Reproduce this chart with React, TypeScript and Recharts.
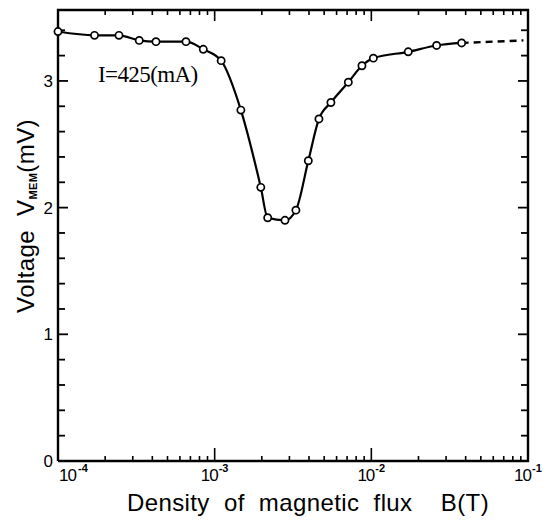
import React from "react";
import { LineChart, Line, XAxis, YAxis, Label } from "recharts";

document.body.style.margin = "0";

const fluxB = [
  1.0e-4, 1.71e-4, 2.45e-4, 3.3e-4, 4.22e-4, 6.56e-4, 8.46e-4, 1.1e-3, 1.47e-3,
  1.97e-3, 2.18e-3, 2.81e-3, 3.3e-3, 3.96e-3, 4.63e-3, 5.52e-3, 7.13e-3,
  8.71e-3, 1.03e-2, 1.72e-2, 2.61e-2, 3.77e-2,
];
const voltage = [
  3.39, 3.36, 3.36, 3.32, 3.31, 3.31, 3.25, 3.16, 2.77, 2.16, 1.92, 1.9, 1.98,
  2.37, 2.7, 2.83, 2.99, 3.12, 3.18, 3.23, 3.28, 3.3,
];
// dashed extrapolation beyond the last measured point
const extrapB = [3.77e-2, 9.35e-2];
const extrapV = [3.3, 3.32];

const decades = [1e-4, 1e-3, 1e-2, 1e-1];
const minorSteps = [2, 3, 4, 5, 6, 7, 8, 9];
const xTicks = decades.flatMap((d) =>
  d === 1e-1 ? [d] : [d, ...minorSteps.map((m) => m * d)]
);
const yTicks = [0, 0.2, 0.4, 0.6, 0.8, 1, 1.2, 1.4, 1.6, 1.8, 2, 2.2, 2.4, 2.6, 2.8, 3, 3.2, 3.4];
const yLabels = [0, 1, 2, 3];
const X_DOMAIN = [1e-4, 1e-1];
const Y_DOMAIN = [0, 3.56];

const measured = fluxB.map((b, i) => ({ b, v: voltage[i] }));
const extrap = extrapB.map((b, i) => ({ b, v: extrapV[i] }));
// box around the plot, on the domain corners
const frame = [
  { b: X_DOMAIN[0], v: Y_DOMAIN[0] },
  { b: X_DOMAIN[1], v: Y_DOMAIN[0] },
  { b: X_DOMAIN[1], v: Y_DOMAIN[1] },
  { b: X_DOMAIN[0], v: Y_DOMAIN[1] },
  { b: X_DOMAIN[0], v: Y_DOMAIN[0] },
];
// anchor rows for the inward tick marks on each edge
const bottomMarks = xTicks.map((b) => ({ b, v: Y_DOMAIN[0] }));
const topMarks = xTicks.map((b) => ({ b, v: Y_DOMAIN[1] }));
const leftMarks = yTicks.map((v) => ({ b: X_DOMAIN[0], v }));
const rightMarks = yTicks.map((v) => ({ b: X_DOMAIN[1], v }));

const W = 554;
const H = 524;
const FONT = "'Liberation Sans', Arial, Helvetica, sans-serif";
const TM = 2; // recharts default tickMargin

const isDecade = (v: number) => decades.some((d) => Math.abs(v - d) / d < 1e-6);

const bottomDot = (p: any) => {
  const len = isDecade(p.payload.b) ? 13 : 5;
  return <line key={`bd${p.index}`} x1={p.cx} x2={p.cx} y1={p.cy} y2={p.cy - len} stroke="#000" strokeWidth={1.6} />;
};
const topDot = (p: any) => {
  const len = isDecade(p.payload.b) ? 11 : 5;
  return <line key={`td${p.index}`} x1={p.cx} x2={p.cx} y1={p.cy} y2={p.cy + len} stroke="#000" strokeWidth={1.6} />;
};
const leftDot = (p: any) => {
  const len = yLabels.includes(p.payload.v) ? 10 : 7;
  return <line key={`ld${p.index}`} x1={p.cx} x2={p.cx + len} y1={p.cy} y2={p.cy} stroke="#000" strokeWidth={1.8} />;
};
const rightDot = (p: any) => {
  const len = yLabels.includes(p.payload.v) ? 10 : 7;
  return <line key={`rd${p.index}`} x1={p.cx} x2={p.cx - len} y1={p.cy} y2={p.cy} stroke="#000" strokeWidth={1.8} />;
};

function bottomTick(props: any) {
  const { x, payload, index } = props;
  const y = props.y - TM;
  const exp = Math.round(Math.log10(payload.value));
  const first = index === 0;
  return (
    <g key={`b${index}`}>
      <text fontFamily={FONT} fill="#000">
        <tspan
          x={first ? x + 1 : x + 3}
          y={y + 20}
          fontSize={17}
          letterSpacing={-1}
          textAnchor={first ? "start" : "end"}
        >
          10
        </tspan>
        <tspan x={first ? x + 20 : x + 4} y={y + 11} fontSize={11} fontWeight="bold">
          {exp}
        </tspan>
      </text>
    </g>
  );
}

function leftTick(props: any) {
  const { y, payload, index } = props;
  const x = props.x + TM;
  return (
    <g key={`l${index}`}>
      <text x={x - 5} y={y + 6} textAnchor="end" fontSize={17} fontFamily={FONT} fill="#000">
        {payload.value}
      </text>
      {index === 0 && (
        <text
          x={98}
          y={82}
          fontFamily="'Liberation Serif', 'Times New Roman', serif"
          fontSize={23}
          letterSpacing={-0.6}
          fill="#000"
        >
          I=425(mA)
        </text>
      )}
    </g>
  );
}

const xTitle = () => (
  <text
    x={308}
    y={511}
    textAnchor="middle"
    fontFamily={FONT}
    fontSize={24}
    letterSpacing={0.4}
    fill="#000"
    style={{ whiteSpace: "pre" }}
  >
    {"Density  of  magnetic  flux    B(T)"}
  </text>
);

const yTitle = () => (
  <text
    transform="translate(34,216) rotate(-90)"
    textAnchor="middle"
    fontFamily={FONT}
    fontSize={24}
    letterSpacing={0.4}
    fill="#000"
    style={{ whiteSpace: "pre" }}
  >
    {"Voltage  V"}
    <tspan fontSize={11} fontWeight="bold" dy={3}>
      MEM
    </tspan>
    <tspan dy={-3}>(mV)</tspan>
  </text>
);

export default function App() {
  return (
    <LineChart width={W} height={H} margin={{ top: 10, right: 26, bottom: 0, left: 0 }}>
      <XAxis
        type="number"
        dataKey="b"
        scale="log"
        domain={X_DOMAIN}
        ticks={decades}
        height={63}
        tickSize={0}
        axisLine={false}
        tick={bottomTick}
      >
        <Label content={xTitle} />
      </XAxis>
      <YAxis
        type="number"
        domain={Y_DOMAIN}
        ticks={yLabels}
        width={58}
        tickSize={0}
        axisLine={false}
        tick={leftTick}
      >
        <Label content={yTitle} />
      </YAxis>
      <Line data={frame} dataKey="v" type="linear" stroke="#000" strokeWidth={2.4} dot={false} isAnimationActive={false} />
      <Line data={bottomMarks} dataKey="v" stroke="none" dot={bottomDot} isAnimationActive={false} />
      <Line data={topMarks} dataKey="v" stroke="none" dot={topDot} isAnimationActive={false} />
      <Line data={leftMarks} dataKey="v" stroke="none" dot={leftDot} isAnimationActive={false} />
      <Line data={rightMarks} dataKey="v" stroke="none" dot={rightDot} isAnimationActive={false} />
      <Line
        data={extrap}
        dataKey="v"
        type="linear"
        stroke="#000"
        strokeWidth={2.4}
        strokeDasharray="7 5"
        dot={false}
        isAnimationActive={false}
      />
      <Line
        data={measured}
        dataKey="v"
        type="monotone"
        stroke="#000"
        strokeWidth={2.2}
        dot={{ r: 3.6, fill: "#fff", stroke: "#000", strokeWidth: 1.7 }}
        isAnimationActive={false}
      />
    </LineChart>
  );
}
